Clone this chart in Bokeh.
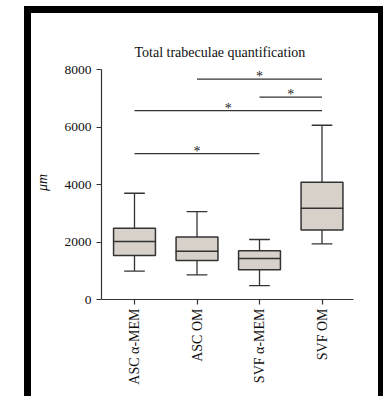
from bokeh.plotting import figure
from bokeh.models import FixedTicker, ColumnDataSource, Range1d
from bokeh.layouts import column
from bokeh.embed import file_html
from bokeh.resources import INLINE
from bokeh.core.properties import value
import math

# ---- data ----
groups = ["ASC \u03b1-MEM", "ASC OM", "SVF \u03b1-MEM", "SVF OM"]
lower_whisker = [990, 860, 480, 1940]
q1 = [1530, 1360, 1040, 2420]
median = [2020, 1680, 1430, 3180]
q3 = [2480, 2180, 1700, 4080]
upper_whisker = [3700, 3060, 2090, 6070]

# significance brackets: (start group index, end group index, level)
sig_start = [1, 2, 0, 0]
sig_end = [3, 3, 3, 2]
sig_level = [7675, 7050, 6580, 5080]
sig_label = ["*", "*", "*", "*"]

y_ticks = [0, 2000, 4000, 6000, 8000]

FONT = "Liberation Serif"
EDGE = "#333333"
FILL = "#d8d1c9"

xs = list(range(len(groups)))
box_w = 0.67
cap_w = 0.32

# canvas origin is at page (31, 13) inside the black frame
p = figure(frame_width=252, frame_height=234,
           x_range=Range1d(-0.528, 3.504), y_range=Range1d(0, 8150),
           min_border_left=66, min_border_right=25, min_border_top=52, min_border_bottom=97,
           output_backend="svg", toolbar_location=None,
           title="Total trabeculae quantification")
p.title.text_font = FONT
p.title.text_font_size = "14px"
p.title.text_font_style = "normal"
p.title.align = "left"
p.title.offset = 33
p.title.standoff = 12
p.title.text_color = "#111111"
p.outline_line_color = None
p.xgrid.visible = False
p.ygrid.visible = False
p.background_fill_color = "white"
p.border_fill_color = "white"
p.styles = {"box-shadow": "0 0 0 7px black"}

src = ColumnDataSource(dict(x=xs, lw=lower_whisker, q1=q1, med=median, q3=q3, uw=upper_whisker))
# whiskers
p.segment(x0="x", y0="q3", x1="x", y1="uw", source=src, line_color=EDGE, line_width=1.3)
p.segment(x0="x", y0="lw", x1="x", y1="q1", source=src, line_color=EDGE, line_width=1.3)
p.rect(x="x", y="uw", width=cap_w, height=0.01, source=src, fill_alpha=0, line_color=EDGE, line_width=1.3, height_units="screen")
p.rect(x="x", y="lw", width=cap_w, height=0.01, source=src, fill_alpha=0, line_color=EDGE, line_width=1.3, height_units="screen")
# boxes
p.vbar(x="x", bottom="q1", top="q3", width=box_w, source=src, fill_color=FILL, line_color=EDGE, line_width=1.5)
p.rect(x="x", y="med", width=box_w, height=0.01, height_units="screen", source=src,
       fill_alpha=0, line_color=EDGE, line_width=1.5)

# significance brackets
sig_src = ColumnDataSource(dict(x0=sig_start, x1=sig_end, y=sig_level,
                                xm=[(a + b) / 2 for a, b in zip(sig_start, sig_end)],
                                t=sig_label))
p.segment(x0="x0", y0="y", x1="x1", y1="y", source=sig_src, line_color=EDGE, line_width=1.1)
p.text(x="xm", y="y", text="t", source=sig_src, text_font=value(FONT), text_font_size="14px",
       text_align="center", text_baseline="bottom", y_offset=5, text_color="#222222")

# axes
p.yaxis.ticker = FixedTicker(ticks=y_ticks)
p.yaxis.bounds = (0, 8000)
p.yaxis.axis_label = "\u03bcm"
p.yaxis.axis_label_text_font = FONT
p.yaxis.axis_label_text_font_style = "italic"
p.yaxis.axis_label_text_font_size = "14px"
p.yaxis.axis_label_standoff = 12
p.yaxis.major_label_text_font = FONT
p.yaxis.major_label_text_font_size = "13.5px"
p.yaxis.major_label_standoff = 5
p.yaxis.minor_tick_line_color = None

p.xaxis.ticker = FixedTicker(ticks=xs)
p.xaxis.major_label_overrides = {i: g for i, g in enumerate(groups)}
p.xaxis.major_label_orientation = math.pi / 2
p.xaxis.major_label_text_font = FONT
p.xaxis.major_label_text_font_size = "14px"
p.xaxis.major_label_standoff = 4
p.xaxis.minor_tick_line_color = None

for ax in (p.xaxis[0], p.yaxis[0]):
    ax.axis_line_color = EDGE
    ax.axis_line_width = 1.2
    ax.major_tick_line_color = EDGE
    ax.major_tick_line_width = 1.2
    ax.major_tick_in = 0
    ax.major_tick_out = 5
    ax.major_label_text_color = "#111111"
    ax.axis_label_text_color = "#111111"

layout = column(p, styles={"margin-left": "31px", "margin-top": "13px"})

open("out.html", "w").write(file_html(layout, INLINE))
